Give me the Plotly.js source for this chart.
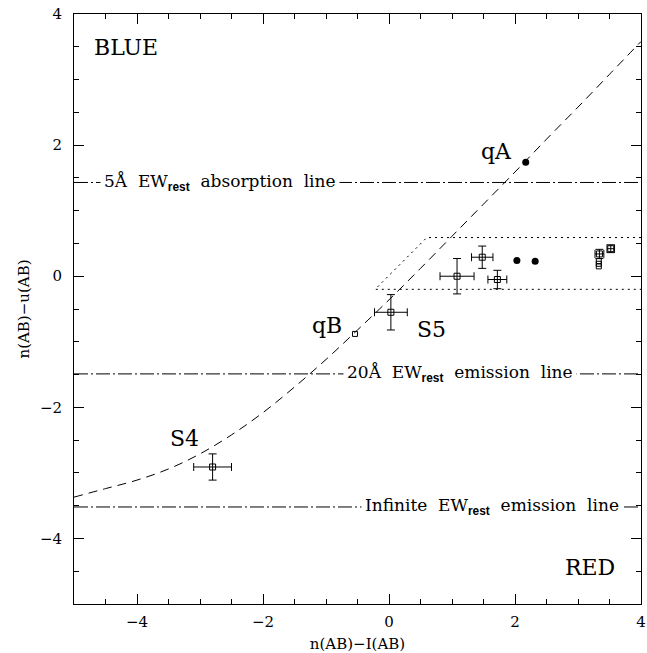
<!DOCTYPE html>
<html>
<head>
<meta charset="utf-8">
<script src="https://cdn.plot.ly/plotly-3.0.1.min.js"></script>
<style>html,body{margin:0;padding:0;background:#fff;}#plot{width:647px;height:653px;}</style>
</head>
<body>
<div id="plot"></div>
<script>
// Model curve
const curveX = [-5, -4.5, -4, -3.5, -3, -2.5, -2, -1.5, -1, -0.5, 0, 0.5, 1, 1.5, 2, 2.5, 3, 3.5, 4];
const curveY = [-3.37, -3.24, -3.11, -2.94, -2.71, -2.42, -2.08, -1.69, -1.27, -0.82, -0.36, 0.12, 0.61, 1.10, 1.59, 2.09, 2.58, 3.08, 3.58];

// Objects with error bars (open squares)
const sqX    = [-2.80, 0.03, 1.08, 1.48, 1.72, 3.34, 3.52];
const sqY    = [-2.91, -0.55, 0.00, 0.29, -0.05, 0.34, 0.42];
const sqXErr = [0.30, 0.26, 0.27, 0.17, 0.15, 0.07, 0.06];
const sqYErr = [0.20, 0.27, 0.27, 0.17, 0.14, 0.07, 0.06];

// Small squares without error bars (qB and stacked points)
const smX = [-0.54, 3.33, 3.33, 3.33];
const smY = [-0.88, 0.23, 0.19, 0.15];

// Filled circles (qA and two others)
const dotX = [2.17, 2.03, 2.32];
const dotY = [1.74, 0.24, 0.23];

// Dotted selection region
const boxX = [4, 0.60, -0.22, 4];
const boxY = [0.59, 0.59, -0.20, -0.20];

// Reference EW lines
const ewY = [1.43, -1.49, -3.52];
const SUB = '<sub><b><span style="font-family:Liberation Sans">rest</span></b></sub>';
const ewLabels = ['5Å&nbsp;&nbsp;EW' + SUB + '&nbsp;&nbsp;absorption&nbsp;&nbsp;line',
                  '20Å&nbsp;&nbsp;EW' + SUB + '&nbsp;&nbsp;emission&nbsp;&nbsp;line',
                  'Infinite&nbsp;&nbsp;EW' + SUB + '&nbsp;&nbsp;emission&nbsp;&nbsp;line'];
const ewLabelX = [-2.68, 1.13, 1.63];

// Text labels
const lblText = ['BLUE', 'RED', 'qA', 'qB', 'S4', 'S5'];
const lblX = [-4.71, 3.62, 1.71, -0.98, -3.24, 0.68];
const lblY = [3.49, -4.44, 1.91, -0.75, -2.47, -0.81];
const lblAnchor = ['left', 'right', 'center', 'center', 'center', 'center'];

const F = 'DejaVu Serif, serif';
const traces = [];

traces.push({x: curveX, y: curveY, mode: 'lines', type: 'scatter',
  line: {color: 'black', width: 1, dash: '9px,6px', shape: 'spline'}, hoverinfo: 'skip'});
traces.push({x: boxX, y: boxY, mode: 'lines', type: 'scatter',
  line: {color: 'black', width: 1, dash: '2px,4px'}, hoverinfo: 'skip'});
ewY.forEach(v => {
  traces.push({x: [-5, 4], y: [v, v], mode: 'lines', type: 'scatter',
    line: {color: 'black', width: 1, dash: '14px,3px,2px,3px'}, hoverinfo: 'skip'});
});
traces.push({x: sqX, y: sqY, mode: 'markers', type: 'scatter',
  marker: {symbol: 'square-open', size: 6, color: 'black', line: {width: 1, color: 'black'}},
  error_x: {type: 'data', array: sqXErr, visible: true, color: 'black', thickness: 1, width: 4},
  error_y: {type: 'data', array: sqYErr, visible: true, color: 'black', thickness: 1, width: 4}});
traces.push({x: smX, y: smY, mode: 'markers', type: 'scatter',
  marker: {symbol: 'square-open', size: 5, color: 'black', line: {width: 1, color: 'black'}}});
traces.push({x: dotX, y: dotY, mode: 'markers', type: 'scatter',
  marker: {symbol: 'circle', size: 7, color: 'black'}});

const annotations = [];
ewY.forEach((v, i) => {
  annotations.push({x: ewLabelX[i], y: v, xref: 'x', yref: 'y', text: ewLabels[i], showarrow: false,
    font: {family: F, size: 17, color: 'black'}, bgcolor: 'white', borderpad: 3, xanchor: 'center', yanchor: 'middle'});
});
lblText.forEach((t, i) => {
  annotations.push({x: lblX[i], y: lblY[i], xref: 'x', yref: 'y', text: t, showarrow: false,
    font: {family: F, size: 22, color: 'black'}, xanchor: lblAnchor[i], yanchor: 'middle'});
});

const axisCommon = {
  showgrid: false, zeroline: false, showline: true, linecolor: 'black', linewidth: 1,
  mirror: 'ticks', ticks: 'inside', ticklen: 10, tickwidth: 1, tickcolor: 'black',
  dtick: 2, tick0: 0, tickfont: {family: F, size: 15, color: 'black'},
  minor: {dtick: 0.5, ticks: 'inside', ticklen: 5, tickwidth: 1, tickcolor: 'black'}
};

const layout = {
  width: 647, height: 653,
  margin: {l: 74, r: 6, t: 14, b: 49},
  paper_bgcolor: 'white', plot_bgcolor: 'white',
  showlegend: false,
  xaxis: Object.assign({}, axisCommon, {range: [-5, 4], ticklabelstandoff: 4,
    title: {text: 'n(AB)−I(AB)', font: {family: F, size: 15, color: 'black'}, standoff: 8}}),
  yaxis: Object.assign({}, axisCommon, {range: [-5, 4], ticklabelstandoff: 8,
    title: {text: 'n(AB)−u(AB)', font: {family: F, size: 15, color: 'black'}, standoff: 6}}),
  annotations: annotations
};

Plotly.newPlot('plot', traces, layout, {displayModeBar: false, staticPlot: true});
</script>
</body>
</html>
